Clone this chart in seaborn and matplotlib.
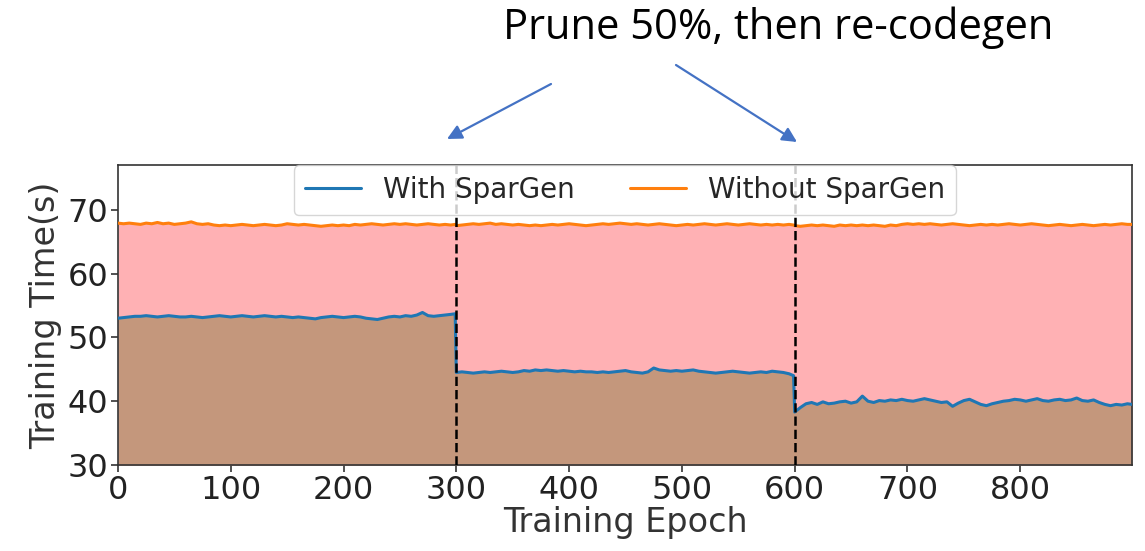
import numpy as np
import pandas as pd
import matplotlib
matplotlib.use("Agg")
import matplotlib.pyplot as plt
from matplotlib.patches import FancyArrowPatch
import seaborn as sns

# Epochs sampled every 5 steps inside each pruning phase, plus each phase's last epoch
phase_starts = [0, 300, 600]
epochs = np.concatenate([np.r_[np.arange(s, s + 300, 5), s + 299] for s in phase_starts])

# Training time per epoch (s), with SparGen re-codegen after each 50% prune
with_spargen = [
    # phase 1 (0-295, 299)
    53.0, 53.1, 53.2, 53.3, 53.3, 53.4, 53.3, 53.2, 53.3, 53.4, 53.3, 53.2,
    53.2, 53.3, 53.2, 53.1, 53.2, 53.3, 53.4, 53.3, 53.2, 53.3, 53.4, 53.3,
    53.2, 53.3, 53.4, 53.3, 53.2, 53.3, 53.2, 53.1, 53.2, 53.1, 53.0, 52.9,
    53.1, 53.2, 53.3, 53.2, 53.1, 53.2, 53.3, 53.2, 53.0, 52.9, 52.8, 53.0,
    53.2, 53.3, 53.2, 53.4, 53.3, 53.5, 53.9, 53.4, 53.3, 53.4, 53.5, 53.6,
    53.7,
    # phase 2 (300-595, 599)
    44.5, 44.6, 44.5, 44.4, 44.5, 44.6, 44.5, 44.6, 44.7, 44.6, 44.5, 44.6,
    44.8, 44.7, 44.9, 44.8, 44.9, 44.8, 44.7, 44.8, 44.7, 44.6, 44.7, 44.6,
    44.6, 44.5, 44.6, 44.5, 44.6, 44.7, 44.8, 44.6, 44.5, 44.4, 44.6, 45.2,
    44.9, 44.8, 44.7, 44.8, 44.7, 44.8, 44.9, 44.7, 44.6, 44.5, 44.4, 44.5,
    44.6, 44.7, 44.6, 44.5, 44.4, 44.5, 44.6, 44.5, 44.7, 44.6, 44.5, 44.3,
    44.0,
    # phase 3 (600-895, 899)
    38.3, 39.0, 39.6, 39.8, 39.5, 39.9, 39.6, 39.7, 39.9, 40.0, 39.7, 39.9,
    40.8, 40.0, 39.8, 40.1, 40.0, 40.2, 40.1, 40.3, 40.1, 40.0, 40.2, 40.4,
    40.2, 40.0, 39.8, 39.9, 39.2, 39.7, 40.1, 40.3, 39.9, 39.5, 39.3, 39.6,
    39.8, 40.0, 40.1, 40.3, 40.2, 40.0, 40.2, 40.4, 40.1, 40.0, 40.2, 40.3,
    40.1, 40.2, 40.5, 40.1, 40.0, 40.2, 39.8, 39.5, 39.3, 39.5, 39.4, 39.6,
    39.5,
]

without_spargen = [
    # phase 1
    67.9, 67.8, 67.9, 67.8, 67.7, 67.9, 67.8, 68.0, 67.8, 67.9, 67.7, 67.8,
    67.9, 68.1, 67.8, 67.7, 67.8, 67.6, 67.5, 67.6, 67.5, 67.6, 67.7, 67.6,
    67.5, 67.6, 67.7, 67.6, 67.5, 67.6, 67.8, 67.7, 67.6, 67.7, 67.6, 67.5,
    67.4, 67.5, 67.6, 67.5, 67.6, 67.5, 67.7, 67.6, 67.7, 67.8, 67.7, 67.6,
    67.7, 67.8, 67.7, 67.8, 67.7, 67.6, 67.7, 67.8, 67.7, 67.6, 67.7, 67.6,
    67.7,
    # phase 2
    67.5, 67.6, 67.7, 67.8, 67.7, 67.8, 67.9, 67.7, 67.8, 67.7, 67.6, 67.7,
    67.6, 67.5, 67.6, 67.5, 67.6, 67.7, 67.6, 67.7, 67.8, 67.7, 67.6, 67.5,
    67.6, 67.7, 67.8, 67.7, 67.8, 67.9, 67.8, 67.7, 67.8, 67.7, 67.6, 67.7,
    67.8, 67.7, 67.6, 67.5, 67.6, 67.7, 67.6, 67.7, 67.8, 67.7, 67.6, 67.7,
    67.8, 67.7, 67.6, 67.7, 67.8, 67.7, 67.6, 67.7, 67.6, 67.7, 67.6, 67.7,
    67.6,
    # phase 3
    67.5, 67.4, 67.5, 67.6, 67.5, 67.6, 67.5, 67.4, 67.6, 67.5, 67.6, 67.5,
    67.6, 67.5, 67.6, 67.5, 67.4, 67.6, 67.5, 67.7, 67.8, 67.7, 67.8, 67.7,
    67.8, 67.7, 67.6, 67.7, 67.8, 67.7, 67.6, 67.5, 67.6, 67.7, 67.6, 67.7,
    67.6, 67.7, 67.8, 67.7, 67.6, 67.7, 67.8, 67.7, 67.6, 67.5, 67.6, 67.7,
    67.6, 67.5, 67.6, 67.7, 67.6, 67.5, 67.6, 67.7, 67.6, 67.7, 67.8, 67.7,
    67.7,
]

prune_epochs = [300, 600]
series_labels = ["With SparGen", "Without SparGen"]

df = pd.DataFrame({
    "epoch": np.tile(epochs, 2),
    "time": np.r_[with_spargen, without_spargen],
    "method": np.repeat(series_labels, len(epochs)),
})

sns.set_style("ticks")
plt.rcParams["font.family"] = ["DejaVu Sans"]

fig = plt.figure(figsize=(11.45, 5.51), dpi=100)
ax = fig.add_axes([0.103, 0.156, 0.8856, 0.5445])

ax.fill_between(epochs, 30, without_spargen, color="#ffb1b4", linewidth=0, zorder=1)
ax.fill_between(epochs, 30, with_spargen, color="#c4977c", linewidth=0, zorder=1)

sns.lineplot(data=df, x="epoch", y="time", hue="method",
             palette=["#1f77b4", "#ff7f0e"], linewidth=2.2, ax=ax, zorder=3)

for e in prune_epochs:
    ax.axvline(e, color="black", linestyle="--", linewidth=1.8, zorder=4)

ax.set_xlim(0, 899)
ax.set_ylim(30, 77)
ax.set_xticks(np.arange(0, 900, 100))
ax.set_yticks([30, 40, 50, 60, 70])
ax.tick_params(labelsize=23, length=5, width=1.2, pad=2,
               colors="#333333", labelcolor="#222222")
ax.set_xlabel("Training Epoch", fontsize=24, color="#333333", labelpad=0)
ax.set_ylabel("Training Time(s)", fontsize=24, color="#333333", labelpad=4)
for sp in ax.spines.values():
    sp.set_color("#333333")
    sp.set_linewidth(1.2)

leg = ax.legend(loc="upper center", bbox_to_anchor=(0.5, 1.0), ncol=2,
                fontsize=20, frameon=True, borderaxespad=0.0, title=None)
for h in leg.get_lines():
    h.set_linewidth(2.2)

fig.text(778 / 1145, 1 - 28 / 551, "Prune 50%, then re-codegen",
         ha="center", va="center", fontsize=30, family="Open Sans", color="black")

arrow_color = "#4472c4"
for (x0, y0), (x1, y1) in [((551, 84), (447, 139)), ((676, 65), (797, 142))]:
    fig.patches.append(FancyArrowPatch(
        (x0 / 1145, 1 - y0 / 551), (x1 / 1145, 1 - y1 / 551),
        transform=fig.transFigure, arrowstyle="-|>", mutation_scale=22,
        color=arrow_color, linewidth=1.6, shrinkA=0, shrinkB=0))

fig.savefig("out.png", dpi=100)
